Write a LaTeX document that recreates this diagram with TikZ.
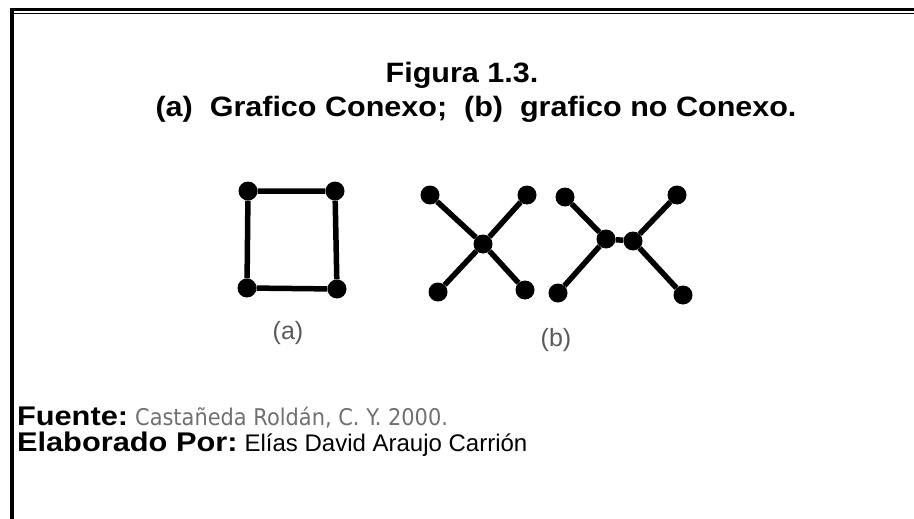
\documentclass[tikz,border=0pt]{standalone}
\usepackage{fontspec}
\setmainfont{Liberation Sans}
\newfontfamily\titlefont[FakeStretch=1.09]{Liberation Sans Bold}
\newfontfamily\labfont[FakeStretch=1.14]{Liberation Sans Bold}
\newfontfamily\srcfont[FakeStretch=0.91]{DejaVu Sans}
\definecolor{srcgray}{HTML}{707070}
\definecolor{labgray}{HTML}{5a5a5a}
\begin{document}
\begin{tikzpicture}[x=1pt,y=-1pt,
  vtx/.style={circle,fill=black,inner sep=0pt,minimum size=19pt},
  edge/.style={line width=5.5pt},
  txt/.style={inner sep=0pt,outer sep=0pt}]
\useasboundingbox (0,0) rectangle (914,519);
% frame
\fill[black] (10,8.5) rectangle (914,11.5);
\fill[black] (13,13) rectangle (914,14.5);
\fill[black] (10,8.5) rectangle (14,519);
% titles
\node[txt,anchor=base] (t1) at (462,83) {\fontsize{28}{34}\titlefont Figura 1.3.};
\node[txt,anchor=base] (t2) at (476,117) {\fontsize{28}{34}\titlefont (a)\ \ Grafico Conexo;\ \ (b)\ \ grafico no Conexo.};
% graph (a)
\node[vtx] (a1) at (248,191) {};
\node[vtx] (a2) at (335,191) {};
\node[vtx] (a3) at (247,288) {};
\node[vtx] (a4) at (337,289) {};
\draw[edge] (a1) -- (a2) -- (a4) -- (a3) -- (a1);
% graph (b) first component
\node[vtx] (b1) at (430,195) {};
\node[vtx] (b2) at (527,195) {};
\node[vtx] (bc) at (483,244) {};
\node[vtx] (b3) at (438,292) {};
\node[vtx] (b4) at (525,290) {};
\draw[edge] (b1) -- (bc) -- (b4);
\draw[edge] (b2) -- (bc) -- (b3);
% graph (b) second component
\node[vtx] (c1) at (565,197) {};
\node[vtx] (c2) at (677,195) {};
\node[vtx] (cl) at (606,239) {};
\node[vtx] (cr) at (633,241) {};
\node[vtx] (c3) at (558,293) {};
\node[vtx] (c4) at (683,295) {};
\draw[edge] (c1) -- (cl) -- (c3);
\draw[edge] (cl) -- (cr);
\draw[edge] (c2) -- (cr) -- (c4);
% labels
\node[txt,text=labgray] (la) at (288,333) {\fontsize{25}{28}\selectfont (a)};
\node[txt,text=labgray] (lb) at (556,340) {\fontsize{25}{28}\selectfont (b)};
% source lines
\node[txt,anchor=base west] (f1) at (17,425) {{\fontsize{27}{30}\labfont Fuente:}\hspace{7pt}\textcolor{srcgray}{\fontsize{23}{30}\srcfont Castañeda Roldán, C. Y. 2000.}};
\node[txt,anchor=base west] (f2) at (17,451) {{\fontsize{27}{30}\labfont Elaborado Por:}\hspace{7pt}{\fontsize{24}{30}\selectfont Elías David Araujo Carrión}};
\end{tikzpicture}
\end{document}
